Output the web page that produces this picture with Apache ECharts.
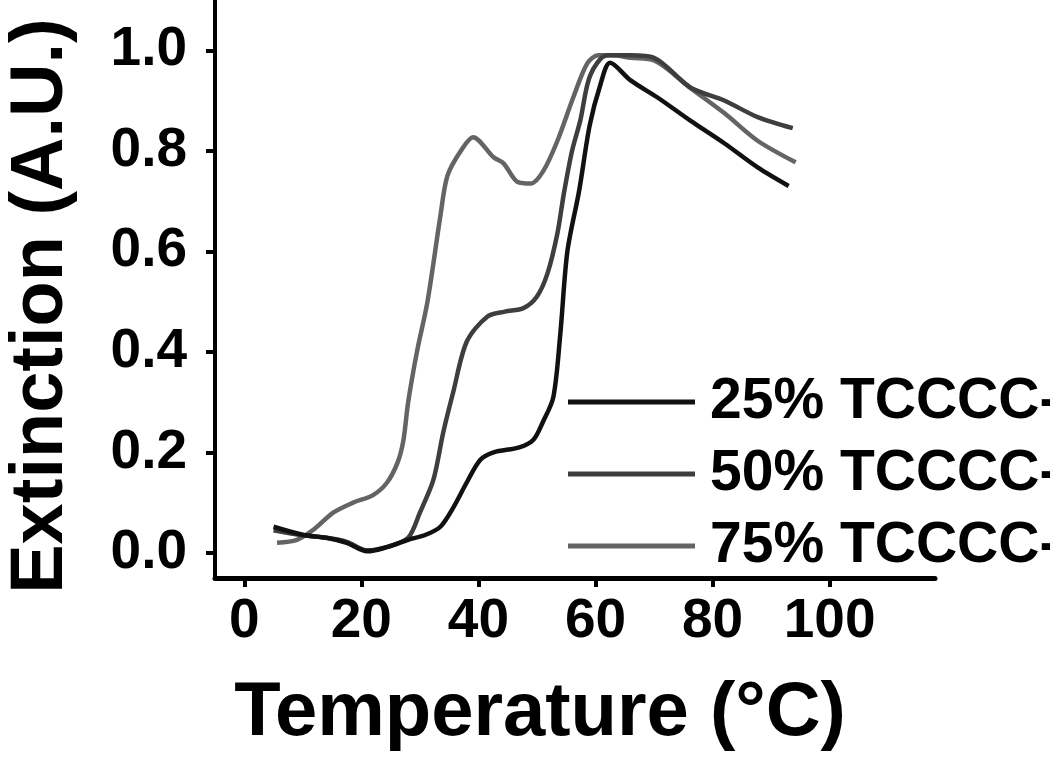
<!DOCTYPE html>
<html>
<head>
<meta charset="utf-8">
<script src="https://cdn.jsdelivr.net/npm/echarts@6/dist/echarts.min.js"></script>
<style>
html,body{margin:0;padding:0;background:#fff;}
#chart{width:1050px;height:760px;}
</style>
</head>
<body>
<div id="chart"></div>
<script>
// ---- data ----
const seriesNames = ['25% TCCCC-', '50% TCCCC-', '75% TCCCC-'];

const temp25 = [5, 10, 14, 17.5, 21, 24.5, 28, 31, 33.5, 35.7, 38, 40.3, 42.6, 47, 49.4, 51, 52.8, 54, 55.2, 57.2, 59, 60.8, 62.5, 66, 70.6, 76.2, 82, 87.7, 93];
const ext25  = [0.052, 0.036, 0.03, 0.02, 0.003, 0.012, 0.026, 0.036, 0.052, 0.09, 0.14, 0.185, 0.2, 0.21, 0.225, 0.26, 0.31, 0.437, 0.6, 0.72, 0.85, 0.93, 0.975, 0.94, 0.906, 0.86, 0.815, 0.767, 0.73];

const temp50 = [5, 10, 14, 17.5, 21, 24.5, 28, 30, 32.3, 34, 35.7, 38, 41.5, 44.5, 47.7, 50, 51.8, 53.5, 54.6, 56, 57.4, 59.1, 62, 66, 70, 76.2, 82, 87.7, 93.7];
const ext50  = [0.045, 0.035, 0.03, 0.022, 0.005, 0.012, 0.03, 0.08, 0.145, 0.24, 0.32, 0.42, 0.47, 0.48, 0.487, 0.51, 0.556, 0.636, 0.715, 0.8, 0.86, 0.95, 0.99, 0.99, 0.985, 0.926, 0.9, 0.867, 0.845];

const temp75 = [5.6, 9, 11.8, 15.2, 18.6, 22, 24.4, 26.2, 27.2, 28, 29.5, 31.3, 33.5, 34.7, 37, 39.1, 42.6, 44.3, 46.7, 49, 51.1, 53.5, 56.2, 58.6, 60.5, 63, 66, 70, 76.2, 82, 87.7, 94.2];
const ext75  = [0.02, 0.026, 0.046, 0.08, 0.1, 0.115, 0.14, 0.18, 0.225, 0.3, 0.4, 0.5, 0.67, 0.75, 0.8, 0.827, 0.787, 0.775, 0.738, 0.735, 0.76, 0.82, 0.906, 0.974, 0.99, 0.99, 0.985, 0.98, 0.925, 0.875, 0.82, 0.777];

const xTicks = [0, 20, 40, 60, 80, 100];
const yTicks = [0, 0.2, 0.4, 0.6, 0.8, 1.0];

const xName = 'Temperature (°C)';
const yName = 'Extinction (A.U.)';

// ---- chart ----
const FONT = '"Liberation Sans", Arial, Helvetica, sans-serif';
const colors = ['#111111', '#3e3e3e', '#646464'];
const pair = (t, e) => t.map((v, i) => [v, e[i]]);
const dataSets = [pair(temp25, ext25), pair(temp50, ext50), pair(temp75, ext75)];

const chart = echarts.init(document.getElementById('chart'), null, {renderer: 'canvas'});

const series = [2, 1, 0].map(i => ({
  name: seriesNames[i],
  type: 'line',
  data: dataSets[i],
  smooth: 0.3,
  showSymbol: false,
  symbol: 'none',
  color: colors[i],
  lineStyle: {color: colors[i], width: 4.5},
  z: 3 - i
}));

chart.setOption({
  animation: false,
  backgroundColor: '#ffffff',
  grid: {left: 215, right: 115, top: 0, bottom: 182, containLabel: false, outerBoundsMode: 'none'},
  xAxis: {
    type: 'value',
    min: -5,
    max: 118,
    name: xName,
    nameLocation: 'middle',
    nameGap: 98,
    nameTextStyle: {fontFamily: FONT, fontWeight: 'bold', fontSize: 76, color: '#000', padding: [0, 70, 0, 0]},
    axisLine: {show: true, onZero: false, lineStyle: {color: '#000', width: 5}},
    axisTick: {show: true, inside: false, length: 9, lineStyle: {color: '#000', width: 4}, customValues: xTicks},
    axisLabel: {show: true, margin: 16, fontFamily: FONT, fontWeight: 'bold', fontSize: 55, color: '#000', customValues: xTicks},
    splitLine: {show: false}
  },
  yAxis: {
    type: 'value',
    min: -0.05,
    max: 1.1,
    name: yName,
    nameLocation: 'middle',
    nameGap: 136,
    nameRotate: 90,
    nameTextStyle: {fontFamily: FONT, fontWeight: 'bold', fontSize: 74, color: '#000', padding: [0, 34, 0, 0]},
    axisLine: {show: true, onZero: false, lineStyle: {color: '#000', width: 4}},
    axisTick: {show: true, inside: false, length: 9, lineStyle: {color: '#000', width: 4}, customValues: yTicks},
    axisLabel: {show: true, margin: 28, fontFamily: FONT, fontWeight: 'bold', fontSize: 55, color: '#000',
      customValues: yTicks, formatter: v => v.toFixed(1)},
    splitLine: {show: false}
  },
  legend: {
    data: seriesNames,
    orient: 'vertical',
    left: 563,
    top: 362,
    icon: 'rect',
    itemWidth: 127,
    itemHeight: 5,
    itemGap: 2,
    textStyle: {fontFamily: FONT, fontWeight: 'bold', fontSize: 57, color: '#000', lineHeight: 70, padding: [0, 0, 0, 10]},
    selectedMode: false
  },
  series: series
});
</script>
</body>
</html>
